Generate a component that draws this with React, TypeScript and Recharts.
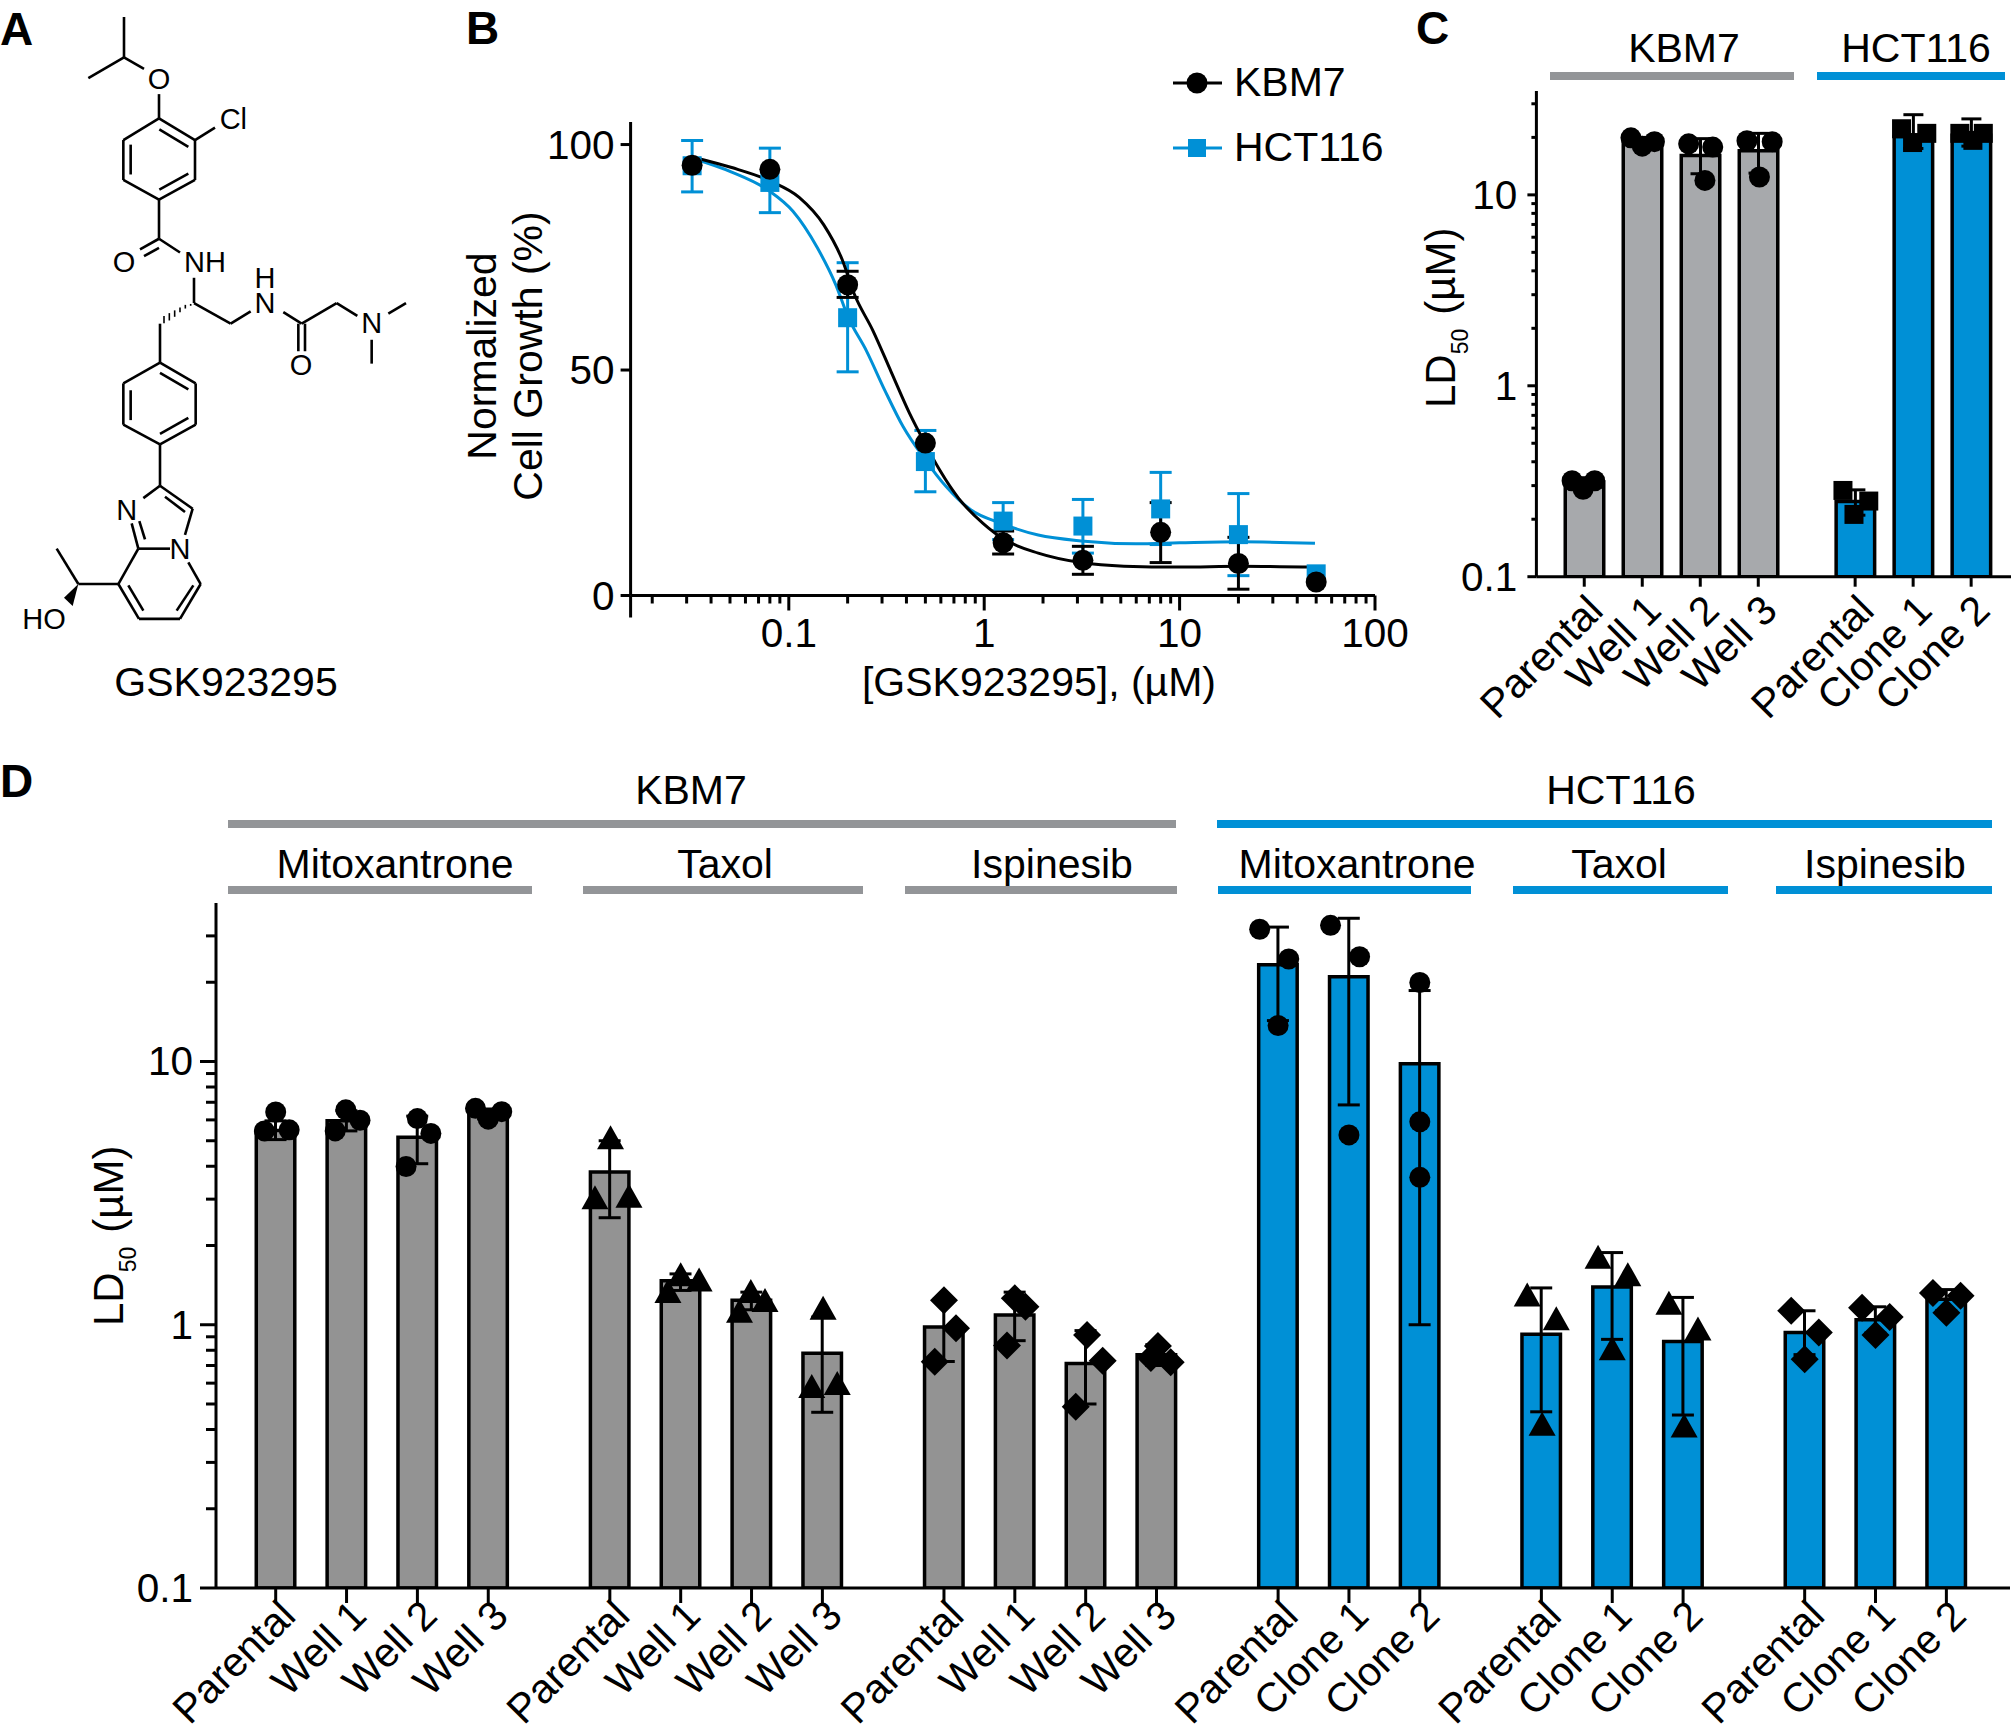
import React from "react";
import { ComposedChart, Bar, Cell, ErrorBar, Scatter, Line, XAxis, YAxis, Legend } from "recharts";

const FONT = "'Liberation Sans', Arial, sans-serif";
const BLUE = "#0090d6";
const GREY_C = "#a7a9ac";
const GREY_D = "#939393";
const GREY_RULE = "#939598";

/* ---------- Panel B ---------- */
const bDoses = [0.032, 0.08, 0.2, 0.5, 1.25, 3.2, 8, 20, 50];
const kbmMean = [95.4, 94.5, 68.9, 33.8, 11.7, 7.8, 14, 7.1, 3];
const kbmLow = [null, null, 66.1, null, 9.2, 4.7, 7.3, 1.4, null];
const kbmHigh = [null, null, 71.9, null, 14.3, 10.9, 20.6, 12.9, null];
const hctMean = [95.3, 91.6, 61.6, 29.7, 16.5, 15.4, 19.2, 13.5, 4.8];
const hctLow = [89.5, 84.9, 49.6, 23, 12.4, 9.4, 11.3, 4.4, null];
const hctHigh = [100.9, 99.2, 73.8, 36.6, 20.6, 21.3, 27.3, 22.6, null];
const kbmCurveX = [0.0324, 0.051, 0.0805, 0.113, 0.151, 0.1875, 0.216, 0.269, 0.334, 0.415, 0.497, 0.594, 0.738, 0.986, 1.27, 1.89, 3.13, 5.19, 10, 20.4, 49.3];
const kbmCurveY = [97.2, 94.9, 91.9, 88.3, 82.2, 74.5, 66.9, 58.8, 49.6, 40.4, 33.8, 27.7, 21.6, 16, 12.4, 9.4, 7.3, 6.5, 6.3, 6.5, 6.3];
const hctCurveX = [0.0324, 0.051, 0.0789, 0.105, 0.14, 0.174, 0.201, 0.25, 0.31, 0.385, 0.497, 0.64, 0.853, 1.22, 1.89, 3.13, 5.98, 10, 20.4, 49.3];
const hctCurveY = [96.9, 93.9, 89.8, 85.2, 77.1, 68.9, 61.8, 54.2, 45.5, 37.4, 30.2, 24.1, 19, 16, 13.4, 12.1, 11.5, 11.7, 11.9, 11.6];
const bXTicks = [0.02, 0.03, 0.04, 0.05, 0.06, 0.07, 0.08, 0.09, 0.1, 0.2, 0.3, 0.4, 0.5, 0.6, 0.7, 0.8, 0.9, 1, 2, 3, 4, 5, 6, 7, 8, 9, 10, 20, 30, 40, 50, 60, 70, 80, 90, 100];
const bXMajor = [0.1, 1, 10, 100];
const bYTicks = [0, 50, 100];

/* ---------- Panel C ---------- */
const cCategories = ["Parental", "Well 1", "Well 2", "Well 3", "Parental", "Clone 1", "Clone 2"];
const cGroups = [4, 3];
const cMeans = [0.313, 18.6, 16.1, 17, 0.248, 20.2, 20.5];
const cLows = [0.29, 18, 12.9, 13, 0.21, 17.5, 18];
const cHighs = [0.33, 20, 19.7, 21, 0.285, 26.3, 25];
const cReplicates = [
  [0.318, 0.287, 0.318],
  [19.9, 18, 19],
  [18.5, 17.8, 11.9],
  [19.2, 19, 12.4],
  [0.283, 0.212, 0.249],
  [22.2, 18.8, 21],
  [21, 19.3, 21],
];
const cJitter = [
  [-0.21, -0.02, 0.18],
  [-0.195, 0, 0.21],
  [-0.2, 0.215, 0.08],
  [-0.195, 0.24, 0.02],
  [-0.21, -0.02, 0.235],
  [-0.2, -0.01, 0.235],
  [-0.195, 0.03, 0.21],
];
const cTicks = [0.1, 0.2, 0.3, 0.4, 0.5, 0.6, 0.7, 0.8, 0.9, 1, 2, 3, 4, 5, 6, 7, 8, 9, 10, 20, 30];

/* ---------- Panel D ---------- */
const dCategories = [
  "Parental", "Well 1", "Well 2", "Well 3",
  "Parental", "Well 1", "Well 2", "Well 3",
  "Parental", "Well 1", "Well 2", "Well 3",
  "Parental", "Clone 1", "Clone 2",
  "Parental", "Clone 1", "Clone 2",
  "Parental", "Clone 1", "Clone 2",
];
const dGroups = [4, 4, 4, 3, 3, 3];
const dMarkers = ["circle", "triangle", "diamond", "circle", "triangle", "diamond"];
const dMeans = [5.47, 5.95, 5.16, 6.3, 3.8, 1.47, 1.24, 0.78, 0.98, 1.09, 0.713, 0.77, 23.3, 21, 9.8, 0.92, 1.39, 0.863, 0.935, 1.045, 1.25];
const dLows = [5.05, 5.45, 4.09, 6.05, 2.55, 1.35, 1.14, 0.465, 0.725, 0.87, 0.5, 0.7, 14.3, 6.84, 1.0, 0.467, 0.88, 0.454, 0.77, 0.93, 1.13];
const dHighs = [5.95, 6.5, 6.2, 6.6, 5.0, 1.56, 1.33, 1.07, 1.25, 1.33, 0.95, 0.84, 32.4, 35, 18.6, 1.38, 1.88, 1.27, 1.13, 1.17, 1.36];
const dReplicates = [
  [5.45, 6.43, 5.5], [5.45, 6.55, 5.98], [3.99, 6.07, 5.33], [6.64, 6.04, 6.45],
  [3.0, 5.07, 3.04], [1.32, 1.53, 1.46], [1.11, 1.32, 1.22], [1.14, 0.575, 0.59],
  [0.724, 1.24, 0.97], [0.834, 1.26, 1.17], [0.488, 0.914, 0.73], [0.748, 0.83, 0.72],
  [31.8, 24.5, 13.7], [32.9, 25, 5.26], [19.95, 5.9, 3.63],
  [1.28, 1.04, 0.413], [1.78, 1.53, 0.8], [1.19, 0.95, 0.407],
  [1.13, 0.935, 0.74], [1.16, 1.07, 0.914], [1.32, 1.29, 1.11],
];
const dJitter = [
  [-0.16, 0, 0.19], [-0.16, -0.01, 0.19], [-0.16, 0, 0.19], [-0.18, 0, 0.19],
  [-0.21, 0.01, 0.27], [-0.18, 0, 0.26], [-0.17, -0.01, 0.19], [0.01, -0.15, 0.21],
  [-0.13, 0, 0.17], [-0.11, 0, 0.15], [-0.14, 0.02, 0.24], [-0.08, 0.02, 0.2],
  [-0.26, 0.15, 0], [-0.26, 0.15, 0], [0, 0, 0],
  [-0.2, 0.21, 0.01], [-0.2, 0.22, 0], [-0.2, 0.21, 0.015],
  [-0.19, 0.2, 0], [-0.19, 0.2, 0], [-0.19, 0.2, 0],
];
const dTicks = cTicks;
const logMajor = [0.1, 1, 10];

/* ---------- header annotations ---------- */
const cHeaders = [
  { text: "KBM7", cx: 1684, y: 62, x1: 1550, x2: 1794, ry: 76, color: GREY_RULE },
  { text: "HCT116", cx: 1916, y: 62, x1: 1817, x2: 2005, ry: 76, color: BLUE },
];
const dHeaders = [
  { text: "KBM7", cx: 691, y: 804, x1: 228, x2: 1176, ry: 824, color: GREY_RULE },
  { text: "HCT116", cx: 1621, y: 804, x1: 1217, x2: 1992, ry: 824, color: BLUE },
  { text: "Mitoxantrone", cx: 395, y: 878, x1: 228, x2: 532, ry: 890, color: GREY_RULE },
  { text: "Taxol", cx: 725, y: 878, x1: 583, x2: 863, ry: 890, color: GREY_RULE },
  { text: "Ispinesib", cx: 1052, y: 878, x1: 905, x2: 1177, ry: 890, color: GREY_RULE },
  { text: "Mitoxantrone", cx: 1357, y: 878, x1: 1218, x2: 1471, ry: 890, color: BLUE },
  { text: "Taxol", cx: 1619, y: 878, x1: 1513, x2: 1728, ry: 890, color: BLUE },
  { text: "Ispinesib", cx: 1885, y: 878, x1: 1776, x2: 1992, ry: 890, color: BLUE },
];

/* ---------- structure drawing of panel A (crop coordinates x*3, y*2.178) ---------- */
const bonds: number[][] = [
  [372, 37, 372, 125], [265, 170, 372, 125], [372, 125, 432, 150], [477, 205, 477, 258],
  [477, 258, 585, 305], [585, 305, 585, 392], [585, 392, 477, 435], [477, 435, 370, 392], [370, 392, 370, 305], [370, 305, 477, 258],
  [478, 282, 565, 320], [392, 315, 392, 380], [478, 413, 565, 378],
  [585, 305, 645, 278], [477, 435, 477, 520], [477, 520, 420, 543], [477, 540, 432, 558], [477, 520, 540, 550],
  [582, 605, 582, 660], [480, 705, 480, 790], [582, 660, 692, 705], [692, 705, 752, 678],
  [850, 680, 905, 705], [895, 705, 895, 765], [915, 705, 915, 765], [905, 705, 1010, 660], [1010, 660, 1072, 688],
  [1165, 683, 1218, 660], [1115, 740, 1115, 792],
  [480, 790, 587, 835], [587, 835, 587, 925], [587, 925, 480, 968], [480, 968, 370, 925], [370, 925, 370, 835], [370, 835, 480, 790],
  [480, 812, 565, 848], [392, 850, 392, 915], [480, 945, 565, 910],
  [480, 968, 480, 1058], [480, 1058, 430, 1085], [480, 1058, 578, 1108], [495, 1082, 555, 1115], [578, 1108, 555, 1165],
  [395, 1140, 415, 1195], [418, 1135, 435, 1175], [415, 1195, 510, 1195],
  [415, 1195, 355, 1272], [355, 1272, 417, 1348], [417, 1348, 540, 1348], [540, 1348, 602, 1272], [602, 1272, 565, 1225],
  [385, 1275, 430, 1330], [530, 1330, 580, 1275], [355, 1272, 235, 1272], [235, 1272, 170, 1195],
];
const hashes: number[][] = [
  [572, 662, 572, 666], [556, 664, 556, 672], [540, 670, 540, 680], [524, 676, 524, 690], [508, 682, 508, 698], [492, 688, 492, 704],
];
const atoms: [string, number, number][] = [
  ["O", 477, 170], ["Cl", 700, 258], ["O", 372, 570], ["NH", 615, 570],
  ["O", 903, 793], ["N", 1115, 703], ["N", 380, 1110], ["N", 540, 1195], ["HO", 132, 1348],
];

/* ---------- helpers ---------- */
function slotsFrom(groups: number[], gap: number) {
  const out: number[] = [];
  let p = 0;
  groups.forEach((n) => {
    for (let i = 0; i < n; i++) out.push(p + i);
    p += n - 1 + gap;
  });
  return out;
}

type MarkerKind = "circle" | "triangle" | "diamond" | "square";
function markerShape(kind: MarkerKind, fill: string) {
  return (p: any) => {
    const { cx, cy } = p;
    if (cx == null || cy == null) return <g />;
    if (kind === "circle") return <circle cx={cx} cy={cy} r={10.5} fill={fill} />;
    if (kind === "square") {
      const s = 19;
      return <rect x={cx - s / 2} y={cy - s / 2} width={s} height={s} fill={fill} />;
    }
    if (kind === "triangle")
      return <path d={`M${cx},${cy - 14} L${cx + 13.5},${cy + 10} L${cx - 13.5},${cy + 10} Z`} fill={fill} />;
    return <path d={`M${cx},${cy - 14} L${cx + 14},${cy} L${cx},${cy + 14} L${cx - 14},${cy} Z`} fill={fill} />;
  };
}

const logYTick = (major: number[], majorLen: number, minorLen: number, labelGap: number) => (p: any) => {
  const v = p.payload.value;
  const isMajor = major.some((m) => Math.abs(m - v) < 1e-9);
  return (
    <g>
      <line x1={p.x} x2={p.x - (isMajor ? majorLen : minorLen)} y1={p.y} y2={p.y} stroke="#000" strokeWidth={3} />
      {isMajor && (
        <text x={p.x - labelGap} y={p.y + 14} textAnchor="end" fontSize={40.5} fill="#000" fontFamily={FONT}>
          {v}
        </text>
      )}
    </g>
  );
};

const rotatedTick = (slots: number[], labels: string[], len: number, dx: number, dy: number) => (p: any) => {
  const i = slots.findIndex((s) => Math.abs(s - p.payload.value) < 1e-6);
  return (
    <g>
      <line x1={p.x} x2={p.x} y1={p.y} y2={p.y + len} stroke="#000" strokeWidth={3} />
      <text
        transform={`translate(${p.x + dx},${p.y + dy}) rotate(-45)`}
        textAnchor="end"
        fontSize={41}
        fill="#000"
        fontFamily={FONT}
      >
        {labels[i]}
      </text>
    </g>
  );
};

type BarPanelProps = {
  left: number; top: number; width: number; height: number;
  margin: { top: number; right: number; left: number; bottom: number };
  yWidth: number; xHeight: number; yDomain: [number, number]; xDomain: [number, number];
  yTicks: number[]; slots: number[]; labels: string[]; means: number[]; lows: number[]; highs: number[];
  replicates: number[][]; jitter: number[][]; colorFor: (i: number) => string;
  markerFor: (i: number) => MarkerKind; majorLen: number; minorLen: number; labelGap: number;
  xTickLen: number; dx: number; dy: number; barSize: number; capWidth: number;
};

function BarPanel(props: BarPanelProps) {
  const { slots, labels, means, lows, highs, replicates, jitter, colorFor, markerFor } = props;
  const rows = slots.map((x, i) => ({ x, mean: means[i], err: [means[i] - lows[i], highs[i] - means[i]] }));
  const repRows = replicates.flatMap((vals, i) =>
    vals.map((v, j) => ({ x: slots[i] + jitter[i][j], value: v, kind: markerFor(i) }))
  );
  const kinds = Array.from(new Set(repRows.map((r) => r.kind)));
  return (
    <div style={{ position: "absolute", left: props.left, top: props.top }}>
      <ComposedChart width={props.width} height={props.height} data={rows} margin={props.margin}>
        <XAxis
          xAxisId="bars"
          dataKey="x"
          type="number"
          domain={props.xDomain}
          allowDataOverflow
          ticks={slots}
          interval={0}
          height={props.xHeight}
          tickSize={0}
          tickMargin={0}
          tickLine={false}
          axisLine={{ stroke: "#000", strokeWidth: 3 }}
          tick={rotatedTick(slots, labels, props.xTickLen, props.dx, props.dy)}
        />
        <XAxis xAxisId="reps" dataKey="x" type="number" domain={props.xDomain} allowDataOverflow hide />
        <YAxis
          type="number"
          scale="log"
          domain={props.yDomain}
          allowDataOverflow
          ticks={props.yTicks}
          interval={0}
          width={props.yWidth}
          tickSize={0}
          tickMargin={0}
          tickLine={false}
          axisLine={{ stroke: "#000", strokeWidth: 3 }}
          tick={logYTick(logMajor, props.majorLen, props.minorLen, props.labelGap)}
        />
        <Bar xAxisId="bars" dataKey="mean" barSize={props.barSize} stroke="#000" strokeWidth={3.5} isAnimationActive={false}>
          {rows.map((_, i) => (
            <Cell key={i} fill={colorFor(i)} />
          ))}
          <ErrorBar dataKey="err" direction="y" width={props.capWidth} stroke="#000" strokeWidth={3} isAnimationActive={false} />
        </Bar>
        {kinds.map((k) => (
          <Scatter
            key={k}
            xAxisId="reps"
            data={repRows.filter((r) => r.kind === k)}
            dataKey="value"
            shape={markerShape(k, "#000")}
            isAnimationActive={false}
          />
        ))}
      </ComposedChart>
    </div>
  );
}

function pointsWithError(means: number[], lows: (number | null)[], highs: (number | null)[]) {
  return bDoses.map((x, i) => {
    const lo = lows[i];
    const hi = highs[i];
    return { x, y: means[i], err: lo == null || hi == null ? null : [means[i] - lo, hi - means[i]] };
  });
}

function DoseChart() {
  const kbmPts = pointsWithError(kbmMean, kbmLow, kbmHigh);
  const hctPts = pointsWithError(hctMean, hctLow, hctHigh);
  const kbmCurve = kbmCurveX.map((x, i) => ({ x, y: kbmCurveY[i] }));
  const hctCurve = hctCurveX.map((x, i) => ({ x, y: hctCurveY[i] }));
  const xTick = (p: any) => {
    const v = p.payload.value;
    const isMajor = bXMajor.some((m) => Math.abs(m - v) < 1e-9);
    return (
      <g>
        <line x1={p.x} x2={p.x} y1={p.y} y2={p.y + (isMajor ? 15 : 8)} stroke="#000" strokeWidth={3} />
        {isMajor && (
          <text x={p.x} y={p.y + 51} textAnchor="middle" fontSize={40.5} fill="#000" fontFamily={FONT}>
            {v}
          </text>
        )}
      </g>
    );
  };
  const yTick = (p: any) => {
    const v = p.payload.value;
    return (
      <g>
        <line x1={p.x} x2={p.x - 10} y1={p.y} y2={p.y} stroke="#000" strokeWidth={3} />
        {v === 0 && <line x1={p.x} x2={p.x} y1={p.y} y2={p.y + 22} stroke="#000" strokeWidth={3} />}
        <text x={p.x - 16} y={p.y + 14} textAnchor="end" fontSize={40.5} fill="#000" fontFamily={FONT}>
          {v}
        </text>
      </g>
    );
  };
  const legendContent = () => (
    <svg width={240} height={140} style={{ display: "block" }}>
      <line x1={1} x2={50} y1={33} y2={33} stroke="#000" strokeWidth={3} />
      <circle cx={25} cy={33} r={10.5} fill="#000" />
      <text x={62} y={46} fontSize={41} fontFamily={FONT} fill="#000">KBM7</text>
      <line x1={1} x2={50} y1={98} y2={98} stroke={BLUE} strokeWidth={3} />
      <rect x={16} y={89} width={18} height={18} fill={BLUE} />
      <text x={62} y={111} fontSize={41} fontFamily={FONT} fill="#000">HCT116</text>
    </svg>
  );
  return (
    <div style={{ position: "absolute", left: 500, top: 60 }}>
      <ComposedChart width={940} height={640} margin={{ top: 62, right: 65, left: 0, bottom: 0 }}>
        <XAxis
          dataKey="x"
          type="number"
          scale="log"
          domain={[0.0155, 100]}
          allowDataOverflow
          ticks={bXTicks}
          interval={0}
          height={104.5}
          tickSize={0}
          tickMargin={0}
          tickLine={false}
          axisLine={{ stroke: "#000", strokeWidth: 3 }}
          tick={xTick}
        />
        <YAxis
          type="number"
          domain={[0, 105]}
          allowDataOverflow
          ticks={bYTicks}
          interval={0}
          width={130.6}
          tickSize={0}
          tickMargin={0}
          tickLine={false}
          axisLine={{ stroke: "#000", strokeWidth: 3 }}
          tick={yTick}
        />
        <Line data={hctCurve} dataKey="y" name="HCT116" type="monotone" stroke={BLUE} strokeWidth={3} dot={false} isAnimationActive={false} />
        <Scatter data={hctPts} dataKey="y" name="HCT116 points" shape={markerShape("square", BLUE)} isAnimationActive={false}>
          <ErrorBar dataKey="err" direction="y" width={11} stroke={BLUE} strokeWidth={3} isAnimationActive={false} />
        </Scatter>
        <Line data={kbmCurve} dataKey="y" name="KBM7" type="monotone" stroke="#000" strokeWidth={3} dot={false} isAnimationActive={false} />
        <Scatter data={kbmPts} dataKey="y" name="KBM7 points" shape={markerShape("circle", "#000")} isAnimationActive={false}>
          <ErrorBar dataKey="err" direction="y" width={11} stroke="#000" strokeWidth={3} isAnimationActive={false} />
        </Scatter>
        <Legend
          layout="horizontal"
          verticalAlign="middle"
          align="center"
          wrapperStyle={{ position: "absolute", left: 672, top: -10, width: 240, height: 140, margin: 0 }}
          content={legendContent}
        />
      </ComposedChart>
    </div>
  );
}

function Overlay() {
  const sx = (x: number) => x / 3;
  const sy = (y: number) => y / 2.178;
  const T = (p: any) => <text fontFamily={FONT} fill="#000" {...p} />;
  return (
    <svg width={2011} height={1732} style={{ position: "absolute", left: 0, top: 0 }}>
      {/* panel letters */}
      <T x={0} y={45} fontSize={46} fontWeight="bold">A</T>
      <T x={466} y={44} fontSize={46} fontWeight="bold">B</T>
      <T x={1416} y={44} fontSize={46} fontWeight="bold">C</T>
      <T x={0} y={797} fontSize={46} fontWeight="bold">D</T>

      {/* structure */}
      {bonds.map((b, i) => (
        <line key={i} x1={sx(b[0])} y1={sy(b[1])} x2={sx(b[2])} y2={sy(b[3])} stroke="#000" strokeWidth={2.6} />
      ))}
      {hashes.map((b, i) => (
        <line key={i} x1={sx(b[0])} y1={sy(b[1])} x2={sx(b[2])} y2={sy(b[3])} stroke="#000" strokeWidth={1.6} />
      ))}
      <path d={`M${sx(235)},${sy(1272)} L${sx(218)},${sy(1320)} L${sx(192)},${sy(1302)} Z`} fill="#000" />
      {atoms.map(([t, x, y], i) => (
        <T key={i} x={sx(x)} y={sy(y) + 10.5} fontSize={29} textAnchor="middle">{t}</T>
      ))}
      <T x={sx(795)} y={sy(605) + 10.5} fontSize={29} textAnchor="middle">
        H<tspan x={sx(795)} dy={25}>N</tspan>
      </T>
      <T x={226} y={696} fontSize={41} textAnchor="middle">GSK923295</T>

      {/* axis titles */}
      <T transform="translate(496,356) rotate(-90)" fontSize={41} textAnchor="middle">Normalized</T>
      <T transform="translate(542,356) rotate(-90)" fontSize={41} textAnchor="middle">Cell Growth (%)</T>
      <T x={1039} y={696} fontSize={41} textAnchor="middle">[GSK923295], (µM)</T>
      <T transform="translate(1454.6,408) rotate(-90)" fontSize={42}>
        LD<tspan fontSize={23} dy={13}>50</tspan>
        <tspan dy={-13} dx={14}>(µM)</tspan>
      </T>
      <T transform="translate(123,1326) rotate(-90)" fontSize={42}>
        LD<tspan fontSize={23} dy={13}>50</tspan>
        <tspan dy={-13} dx={14}>(µM)</tspan>
      </T>

      {/* group headers */}
      {[...cHeaders, ...dHeaders].map((h, i) => (
        <g key={i}>
          <T x={h.cx} y={h.y} fontSize={41} textAnchor="middle">{h.text}</T>
          <rect x={h.x1} y={h.ry - 4} width={h.x2 - h.x1} height={8} fill={h.color} />
        </g>
      ))}
    </svg>
  );
}

export default function App() {
  const cSlots = slotsFrom(cGroups, 1.67);
  const dSlots = slotsFrom(dGroups, 1.716);
  return (
    <div style={{ position: "absolute", left: 0, top: 0, width: 2011, height: 1732, background: "#fff", overflow: "hidden", fontFamily: FONT }}>
      <Overlay />
      <DoseChart />
      <BarPanel
        left={1420} top={70} width={591} height={700}
        margin={{ top: 21, right: 0, left: 0, bottom: 0 }}
        yWidth={116.4} xHeight={193.3}
        yDomain={[0.1, 35]} xDomain={[-0.825, 7.357]} yTicks={cTicks}
        slots={cSlots} labels={cCategories} means={cMeans} lows={cLows} highs={cHighs}
        replicates={cReplicates} jitter={cJitter}
        colorFor={(i) => (i < 4 ? GREY_C : BLUE)}
        markerFor={(i) => (i < 4 ? "circle" : "square")}
        majorLen={9} minorLen={5} labelGap={19} xTickLen={10} dx={21} dy={36}
        barSize={38.5} capWidth={10}
      />
      <BarPanel
        left={60} top={883} width={1951} height={849}
        margin={{ top: 20, right: 1, left: 0, bottom: 0 }}
        yWidth={156} xHeight={144}
        yDomain={[0.1, 40]} xDomain={[-0.8426, 24.478]} yTicks={dTicks}
        slots={dSlots} labels={dCategories} means={dMeans} lows={dLows} highs={dHighs}
        replicates={dReplicates} jitter={dJitter}
        colorFor={(i) => (i < 12 ? GREY_D : BLUE)}
        markerFor={(i) => {
          let n = 0;
          for (let g = 0; g < dGroups.length; g++) {
            n += dGroups[g];
            if (i < n) return dMarkers[g] as MarkerKind;
          }
          return "circle";
        }}
        majorLen={16} minorLen={10} labelGap={23} xTickLen={15} dx={22} dy={30}
        barSize={38.5} capWidth={11}
      />
    </div>
  );
}
